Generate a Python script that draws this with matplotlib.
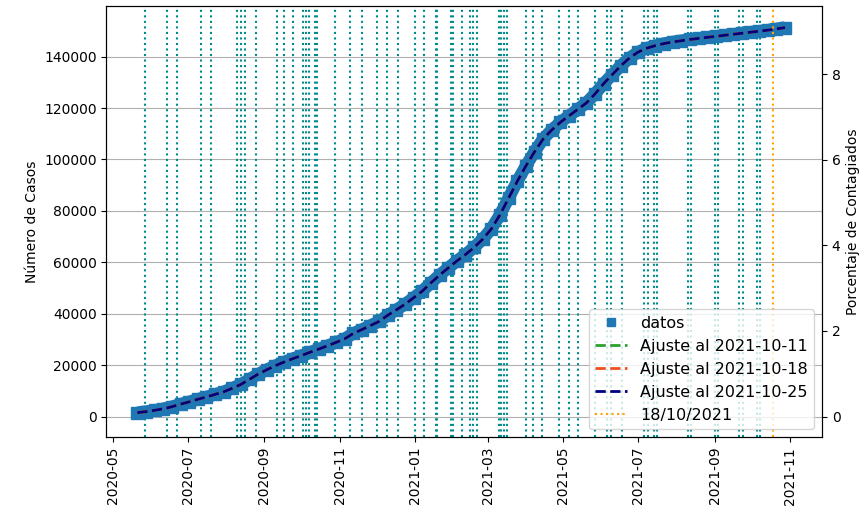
import pandas as pd
import matplotlib
matplotlib.use('Agg')
import matplotlib.pyplot as plt
import matplotlib.dates as mdates

plt.rcParams['font.size'] = 10

# datos semanales (casos acumulados)
fechas = pd.date_range('2020-05-21', '2021-10-28', freq='7D')
casos = [1500, 1900, 2400, 3000, 3800, 4800, 5700, 6700, 7600, 8600, 9600,
         11000, 12500, 14500, 16500, 18200, 19800, 21200, 22500,
         23700, 25000, 26200, 27500, 28800, 30200, 32300, 33800, 35400,
         37000, 39400, 41500, 43700, 46200,
         48800, 52000, 55000, 57800, 60500, 63000, 65800, 69000,
         73000, 78500, 85000, 91500, 97500, 103000, 108000, 111500, 114500,
         117000, 119500, 122000, 125500, 129500, 133000, 136500, 139500,
         141800, 143300, 144300, 145100, 145700, 146200, 146700, 147100, 147500,
         147900, 148300, 148700, 149100, 149500, 149900, 150300, 150800, 151300]

# fechas de eventos (lineas verticales)
eventos = ['2020-05-27', '2020-06-14', '2020-06-22', '2020-07-12', '2020-07-20',
           '2020-08-10', '2020-08-13', '2020-08-16', '2020-08-25', '2020-09-11',
           '2020-09-17', '2020-09-24', '2020-10-02', '2020-10-05', '2020-10-07',
           '2020-10-12', '2020-10-14', '2020-10-28', '2020-11-09', '2020-11-19',
           '2020-12-01', '2020-12-09', '2020-12-18', '2021-01-01', '2021-01-08',
           '2021-01-18', '2021-01-19', '2021-01-30', '2021-02-01', '2021-02-08',
           '2021-02-15', '2021-02-17', '2021-02-20', '2021-03-10', '2021-03-12',
           '2021-03-14', '2021-03-17', '2021-04-01', '2021-04-07', '2021-04-14',
           '2021-04-28', '2021-05-06', '2021-05-13', '2021-05-27', '2021-06-06',
           '2021-06-09', '2021-06-18', '2021-07-06', '2021-07-09', '2021-07-14',
           '2021-07-16', '2021-08-10', '2021-08-13', '2021-09-01', '2021-09-04',
           '2021-09-21', '2021-09-24', '2021-10-05', '2021-10-08']
fecha_corte = '2021-10-18'
poblacion = 1665000

fig = plt.figure(figsize=(8.65, 5.13), dpi=100)
ax = fig.add_axes([0.1231, 0.148, 0.8272, 0.8403])

for f in eventos:
    ax.axvline(pd.Timestamp(f), color='darkcyan', linestyle=':', linewidth=1.5)

# banda de datos
ax.plot(fechas, casos, color='#1f77b4', linewidth=9, solid_capstyle='butt')
ax.plot(fechas, casos, 's', color='#1f77b4', markersize=9, label='datos')
ax.plot(fechas, casos, '--', color='#2ca02c', linewidth=2, label='Ajuste al 2021-10-11')
ax.plot(fechas, casos, '--', color='#f0501e', linewidth=2, label='Ajuste al 2021-10-18')
ax.plot(fechas, casos, '--', color='navy', linewidth=2, label='Ajuste al 2021-10-25')
ax.axvline(pd.Timestamp(fecha_corte), color='orange', linestyle=':', linewidth=1.5,
           label='18/10/2021')

ax.grid(True, axis='y', color='#b0b0b0')
ax.set_xlim(pd.Timestamp('2020-04-26'), pd.Timestamp('2021-11-27'))
ax.set_ylim(-8000, 159700)
ax.set_yticks(range(0, 140001, 20000))
ax.xaxis.set_major_locator(mdates.MonthLocator(bymonth=[1, 3, 5, 7, 9, 11]))
ax.xaxis.set_major_formatter(mdates.DateFormatter('%Y-%m'))
plt.setp(ax.get_xticklabels(), rotation=90)
ax.set_ylabel('Número de Casos')
ax.set_title('Evolución de casos y ajuste logístico', color='blue', y=1.005)
ax.legend(loc='lower right', fontsize=11.5, markerscale=0.6)

ax2 = ax.twinx()
y0, y1 = ax.get_ylim()
ax2.set_ylim(y0 / poblacion * 100, y1 / poblacion * 100)
ax2.set_yticks([0, 2, 4, 6, 8])
ax2.set_ylabel('Porcentaje de Contagiados')

fig.savefig('out.png')
